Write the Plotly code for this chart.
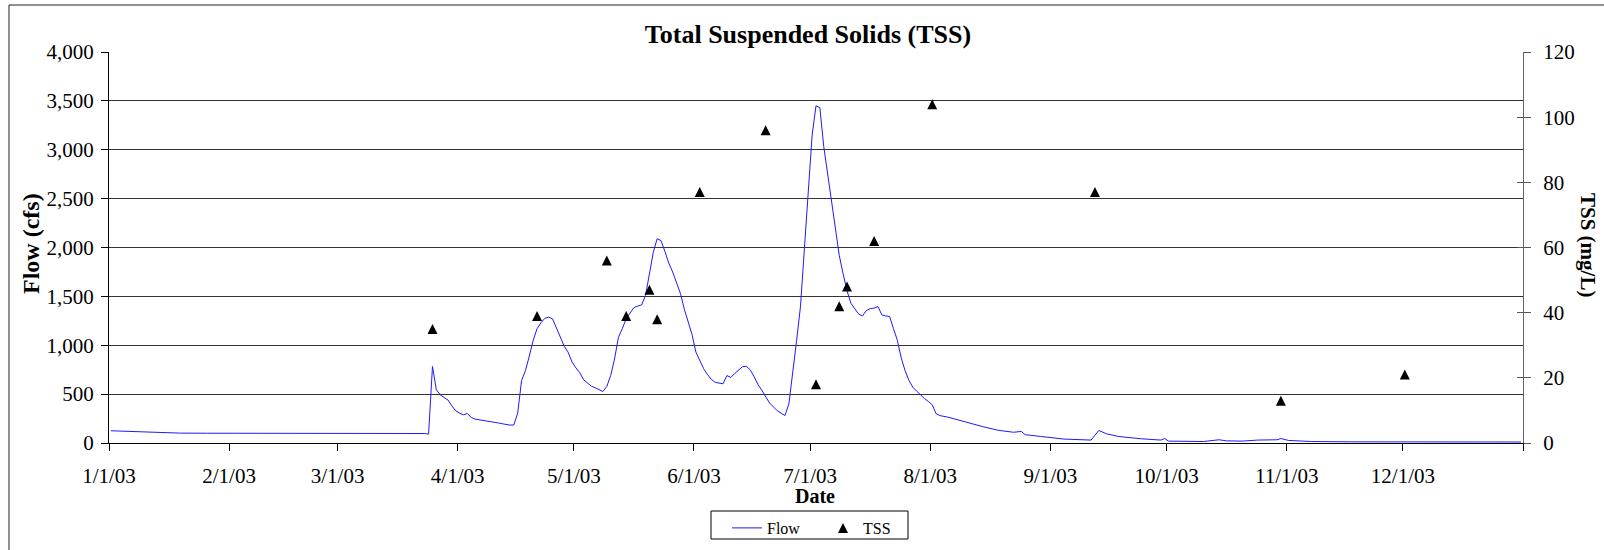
import pandas as pd
import plotly.graph_objects as go

# ---------------- data ----------------
flow_dates = [
    "2003-01-01", "2003-01-07", "2003-01-13", "2003-01-19", "2003-01-26",
    "2003-02-10", "2003-03-02", "2003-03-17",
    "2003-03-23", "2003-03-24", "2003-03-25", "2003-03-26", "2003-03-27",
    "2003-03-28", "2003-03-29", "2003-03-30", "2003-03-31", "2003-04-01",
    "2003-04-02", "2003-04-03", "2003-04-04", "2003-04-05", "2003-04-06",
    "2003-04-07", "2003-04-08", "2003-04-09", "2003-04-10", "2003-04-11",
    "2003-04-12", "2003-04-13", "2003-04-14", "2003-04-15", "2003-04-16",
    "2003-04-17", "2003-04-18", "2003-04-19", "2003-04-20", "2003-04-21",
    "2003-04-22", "2003-04-23", "2003-04-24", "2003-04-25", "2003-04-26",
    "2003-04-27", "2003-04-28", "2003-04-29", "2003-04-30", "2003-05-01",
    "2003-05-02", "2003-05-03", "2003-05-04", "2003-05-05", "2003-05-06",
    "2003-05-07", "2003-05-08", "2003-05-09", "2003-05-10", "2003-05-11",
    "2003-05-12", "2003-05-13", "2003-05-14", "2003-05-15", "2003-05-16",
    "2003-05-17", "2003-05-18", "2003-05-19", "2003-05-20", "2003-05-21",
    "2003-05-22", "2003-05-23", "2003-05-24", "2003-05-25", "2003-05-26",
    "2003-05-27", "2003-05-28", "2003-05-29", "2003-05-30", "2003-05-31",
    "2003-06-01", "2003-06-02", "2003-06-03", "2003-06-04", "2003-06-05",
    "2003-06-06", "2003-06-07", "2003-06-08", "2003-06-09", "2003-06-10",
    "2003-06-11", "2003-06-12", "2003-06-13", "2003-06-14", "2003-06-15",
    "2003-06-16", "2003-06-17", "2003-06-18", "2003-06-19", "2003-06-20",
    "2003-06-21", "2003-06-22", "2003-06-23", "2003-06-24", "2003-06-25",
    "2003-06-26", "2003-06-27", "2003-06-28", "2003-06-29", "2003-06-30",
    "2003-07-01", "2003-07-02", "2003-07-03", "2003-07-04", "2003-07-05",
    "2003-07-06", "2003-07-07", "2003-07-08", "2003-07-09", "2003-07-10",
    "2003-07-11", "2003-07-12", "2003-07-13", "2003-07-14", "2003-07-15",
    "2003-07-16", "2003-07-17", "2003-07-18", "2003-07-19", "2003-07-20",
    "2003-07-21", "2003-07-22", "2003-07-23", "2003-07-24", "2003-07-25",
    "2003-07-26", "2003-07-27", "2003-07-28", "2003-07-29", "2003-07-30",
    "2003-07-31", "2003-08-01", "2003-08-02", "2003-08-03",
    "2003-08-05", "2003-08-08", "2003-08-11", "2003-08-14", "2003-08-18",
    "2003-08-22", "2003-08-24", "2003-08-25", "2003-08-29", "2003-09-04",
    "2003-09-11", "2003-09-13", "2003-09-15", "2003-09-18", "2003-09-24",
    "2003-09-29", "2003-09-30", "2003-10-01", "2003-10-10", "2003-10-14",
    "2003-10-16", "2003-10-20", "2003-10-24", "2003-10-29", "2003-10-30",
    "2003-11-01", "2003-11-07", "2003-11-17", "2003-12-31",
]
flow_cfs = [
    125, 115, 107, 101, 100,
    100, 100, 99,
    97, 91, 783, 544, 493,
    465, 440, 380, 329, 305,
    288, 302, 261, 244, 238,
    234, 230, 222, 213, 205,
    197, 190, 183, 185, 306,
    640, 740, 890, 1050, 1170,
    1230, 1275, 1288, 1270, 1170,
    1080, 990, 930, 830, 770,
    720, 647, 610, 582, 565,
    548, 527, 578, 690, 860,
    1080, 1170, 1270, 1330, 1385,
    1400, 1414, 1510, 1720, 1950,
    2090, 2070, 1960, 1840, 1750,
    1640, 1530, 1370, 1240, 1110,
    930, 850, 760, 700, 650,
    620, 610, 606, 690, 670,
    710, 745, 780, 785, 750,
    680, 600, 540, 470, 410,
    370, 330, 305, 281, 400,
    700, 1050, 1400, 2000, 2650,
    3150, 3450, 3430, 3033, 2750,
    2480, 2181, 1920, 1730, 1560,
    1430, 1370, 1320, 1300, 1355,
    1375, 1380, 1396, 1310, 1300,
    1294, 1170, 1050, 870, 740,
    640, 570, 530, 490, 455,
    425, 391, 300, 280,
    265, 230, 195, 168, 130,
    110, 118, 85, 67, 40,
    30, 128, 94, 67, 43,
    30, 46, 19, 15, 33,
    22, 19, 30, 33, 46,
    26, 15, 12, 10,
]

tss_dates = [
    "2003-03-25", "2003-04-21", "2003-05-09", "2003-05-14", "2003-05-20",
    "2003-05-22", "2003-06-02", "2003-06-19", "2003-07-02", "2003-07-08",
    "2003-07-10", "2003-07-17", "2003-08-01", "2003-09-12", "2003-10-30",
    "2003-12-01",
]
tss_mg_l = [35, 39, 56, 39, 47, 38, 77, 96, 18, 42, 48, 62, 104, 77, 13, 21]

month_ticks = [
    "2003-01-01", "2003-02-01", "2003-03-01", "2003-04-01", "2003-05-01",
    "2003-06-01", "2003-07-01", "2003-08-01", "2003-09-01", "2003-10-01",
    "2003-11-01", "2003-12-01", "2004-01-01",
]
month_labels = [
    "1/1/03", "2/1/03", "3/1/03", "4/1/03", "5/1/03", "6/1/03", "7/1/03",
    "8/1/03", "9/1/03", "10/1/03", "11/1/03", "12/1/03", "",
]

# daily values sit in the middle of each day, as on the original date axis
half_day = pd.Timedelta(hours=12)
flow_x = pd.to_datetime(flow_dates) + half_day
tss_x = pd.to_datetime(tss_dates) + half_day

FONT = "Liberation Serif, Times New Roman, serif"

# plot-area geometry in pixels (window 1604 x 550)
L, R, T, B = 109, 1523, 52, 443
PW, PH = R - L, B - T


def px(x):
    return (x - L) / PW


def py(y):
    return (B - y) / PH


fig = go.Figure()
fig.add_trace(go.Scatter(
    x=flow_x, y=flow_cfs, mode="lines", name="Flow",
    line=dict(color="#1a1aff", width=1),
))
# near-equilateral upward triangle centred on the value
fig.add_trace(go.Scatter(
    x=tss_x, y=tss_mg_l, mode="markers", name="TSS", yaxis="y2",
    showlegend=False,
    marker=dict(symbol="arrow-down", angle=180, standoff=5, size=10,
                color="black", line=dict(width=0)),
))
# legend entry for TSS (the legend applies the marker offset the other way)
fig.add_trace(go.Scatter(
    x=[None], y=[None], mode="markers", name="TSS", yaxis="y2",
    marker=dict(symbol="arrow-up", standoff=5, size=10,
                color="black", line=dict(width=0)),
    hoverinfo="skip",
))
# dummy trace so yaxis3 (inner half of the crossing right-axis ticks) is drawn
fig.add_trace(go.Scatter(x=[None], y=[None], yaxis="y3", showlegend=False,
                         hoverinfo="skip"))

fig.update_layout(
    width=1604, height=550,
    margin=dict(l=L, r=1604 - R, t=T, b=550 - B, autoexpand=False),
    paper_bgcolor="white", plot_bgcolor="white",
    font=dict(family=FONT, color="black", size=21),
    title=dict(
        text="<b>Total Suspended Solids (TSS)</b>",
        font=dict(family=FONT, size=26, color="black"),
        x=px(808), xref="paper", xanchor="center",
        y=1 - 34 / 550, yref="container", yanchor="middle",
    ),
    xaxis=dict(
        type="date",
        range=["2003-01-01", "2004-01-01"],
        tickmode="array", tickvals=month_ticks, ticktext=month_labels,
        ticks="outside", ticklen=7, tickcolor="black", tickwidth=1,
        showline=True, linecolor="black", linewidth=1,
        showgrid=False, zeroline=False,
        tickfont=dict(family=FONT, size=21),
        ticklabelstandoff=7,
        automargin=False,
    ),
    yaxis=dict(
        range=[0, 4000], dtick=500, tickformat=",d",
        ticks="outside", ticklen=7, tickcolor="black",
        showline=True, linecolor="black", linewidth=1,
        showgrid=True, gridcolor="#333333", gridwidth=1,
        zeroline=False,
        tickfont=dict(family=FONT, size=21),
        ticklabelstandoff=3,
        automargin=False,
    ),
    yaxis2=dict(
        range=[0, 120], dtick=20, overlaying="y", side="right",
        ticks="outside", ticklen=7, tickcolor="#555555",
        showline=True, linecolor="#666666", linewidth=1,
        showgrid=False, zeroline=False,
        tickfont=dict(family=FONT, size=21),
        ticklabelstandoff=8,
        automargin=False,
    ),
    yaxis3=dict(
        range=[0, 120], dtick=20, overlaying="y", side="right", anchor="x",
        ticks="inside", ticklen=6, tickcolor="#555555",
        showticklabels=False, showline=False, showgrid=False, zeroline=False,
    ),
    legend=dict(
        orientation="h", x=px(727), xanchor="left", y=py(511), yanchor="top",
        borderwidth=0, bgcolor="rgba(0,0,0,0)",
        font=dict(family=FONT, size=16),
        entrywidth=51, entrywidthmode="pixels",
    ),
    showlegend=True,
)

fig.add_annotation(text="<b>Flow (cfs)</b>", xref="paper", yref="paper",
                   x=px(31), y=py(244), xanchor="center", yanchor="middle",
                   textangle=-90, showarrow=False,
                   font=dict(family=FONT, size=24))
fig.add_annotation(text="<b>TSS (mg/L)</b>", xref="paper", yref="paper",
                   x=px(1588), y=py(245), xanchor="center", yanchor="middle",
                   textangle=90, showarrow=False,
                   font=dict(family=FONT, size=21))
fig.add_annotation(text="<b>Date</b>", xref="paper", yref="paper",
                   x=px(815), y=py(496), xanchor="center", yanchor="middle",
                   showarrow=False, font=dict(family=FONT, size=20))

# legend frame
fig.add_shape(type="rect", xref="paper", yref="paper",
              x0=px(711), x1=px(908), y0=py(539), y1=py(511),
              line=dict(color="black", width=1), layer="above")
# outer chart-area frame (runs off the right and bottom of the window)
fig.add_shape(type="rect", xref="paper", yref="paper",
              x0=px(9), x1=px(1612), y0=py(560), y1=py(5),
              line=dict(color="#222222", width=1), layer="below")

fig.write_html(
    "out.html",
    config={"displayModeBar": False},
    post_script="document.body.style.margin='0px';"
                "document.body.style.overflow='hidden';",
)
